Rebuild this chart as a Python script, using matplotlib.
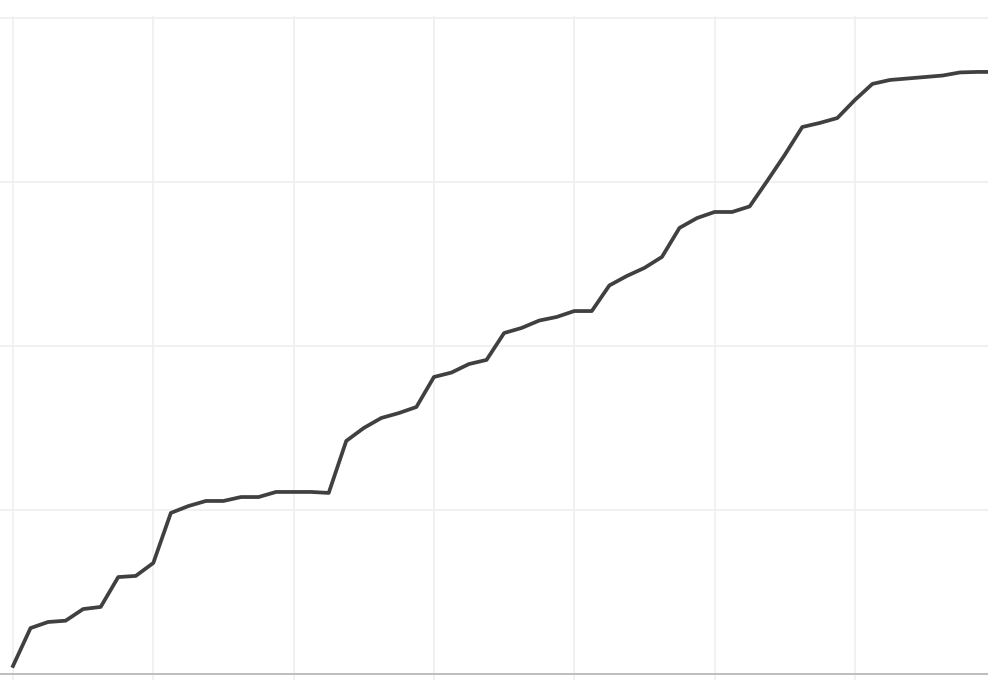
#!/usr/bin/env python3

"""Cumulative line chart, cropped view without labels"""

import matplotlib
matplotlib.use('Agg')
import matplotlib.pyplot as plt
import numpy as np

# cumulative values, one per period
VALUES = [4.9, 28.0, 31.7, 32.5, 39.6, 40.9, 59.1, 59.8, 67.7, 98.2,
          102.4, 105.5, 105.5, 107.9, 107.9, 111.0, 111.0, 111.0, 110.4, 142.1,
          150.0, 156.1, 159.1, 162.8, 181.1, 183.8, 189.0, 191.5, 207.9, 211.0,
          215.5, 217.7, 221.3, 221.3, 236.9, 242.7, 247.6, 254.3, 272.0, 278.0,
          281.7, 281.7, 285.1, 300.6, 316.5, 333.5, 336.0, 339.0, 350.0, 359.8,
          362.2, 363.1, 364.0, 364.9, 366.8, 367.1, 367.1]
PERIODS = np.arange(len(VALUES))
X_TICKS = [0, 8, 16, 24, 32, 40, 48]
Y_TICKS = [0, 100, 200, 300, 400]


def main():
    fig = plt.figure(figsize=(9.88, 6.8), dpi=100)
    # plot area stops at the top grid line
    ax1 = fig.add_axes([0, 0, 1, (680 - 16) / 680])

    ax1.plot(PERIODS, VALUES, color='#404040', linewidth=2.7,
             solid_joinstyle='round', zorder=3)

    # grid
    ax1.set_xticks(X_TICKS)
    ax1.set_yticks(Y_TICKS)
    ax1.grid(True, color='#efefef', linewidth=1.2)
    ax1.axhline(y=0, color='#bdbdbd', linewidth=1.4, zorder=2)
    ax1.tick_params(length=0, labelbottom=False, labelleft=False)
    for spine in ax1.spines.values():
        spine.set_visible(False)

    ax1.set_xlim(-0.741, 55.59)
    ax1.set_ylim(-3.66, 401.2)

    plt.savefig('out.png', dpi=100)


if __name__ == "__main__":
    main()
